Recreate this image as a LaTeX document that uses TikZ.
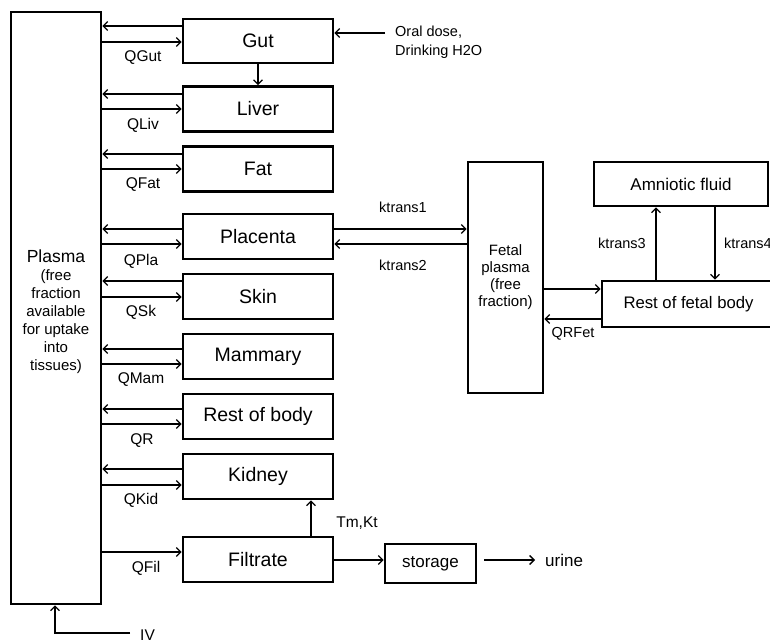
\documentclass[tikz,border=0pt]{standalone}
\usepackage{fontspec}
\setmainfont{Liberation Sans}
\usetikzlibrary{arrows.meta}
\newcommand{\fsz}[1]{\fontsize{#1}{#1}\selectfont}
\tikzset{
  box/.style={draw, line width=2.6pt, inner sep=0pt, font=\fsz{19.5}},
  arr/.style={-{Straight Barb[length=4.5pt,width=9pt,line width=1.3pt]}, line width=1.3pt},
  lbl/.style={inner sep=0pt, font=\fsz{15.5}},
  slbl/.style={inner sep=0pt, font=\fsz{14.5}},
}
\begin{document}
\begin{tikzpicture}[x=1pt,y=-1pt]
\useasboundingbox (0,0) rectangle (770,639);
% plasma
\node[box, minimum width=90pt, minimum height=592pt] (plasma) at (56,308) {};
\node[inner sep=0pt, align=center, font=\fsz{15}, text depth=0pt] (ptext) at (56,310)
  {{\fsz{17.5}Plasma}\\[3pt](free\\[3pt]fraction\\[3pt]available\\[3pt]for uptake\\[3pt]into\\[3pt]tissues)};
% organ boxes
\node[box, minimum width=150pt, minimum height=44pt] (gut) at (258,41) {Gut};
\node[box, minimum width=150pt, minimum height=45pt] (liver) at (258,109) {Liver};
\node[box, minimum width=150pt, minimum height=45pt] (fat) at (258,169) {Fat};
\node[box, minimum width=150pt, minimum height=45pt] (placenta) at (258,236.5) {Placenta};
\node[box, minimum width=150pt, minimum height=45pt] (skin) at (258,296.5) {Skin};
\node[box, minimum width=150pt, minimum height=45pt] (mammary) at (258,356.5) {Mammary};
\node[box, minimum width=150pt, minimum height=45pt] (rest) at (258,416.5) {Rest of body};
\node[box, minimum width=150pt, minimum height=45pt] (kidney) at (258,476.5) {Kidney};
\node[box, minimum width=150pt, minimum height=45pt] (filtrate) at (258,559.5) {Filtrate};
\node[box, minimum width=91pt, minimum height=39pt, font=\fsz{17}] (storage) at (430.5,563.5) {storage};
% fetal side
\node[box, minimum width=75pt, minimum height=231pt, font=\fsz{15}, align=center] (fetal) at (505.5,277.5)
  {Fetal\\[2pt]plasma\\[2pt](free\\[2pt]fraction)};
\node[box, minimum width=174pt, minimum height=44pt, font=\fsz{17}] (amn) at (681,184) {Amniotic fluid};
\node[box, minimum width=173pt, minimum height=46pt, font=\fsz{16.7}] (rfb) at (688.5,304) {Rest of fetal body};
% plasma <-> organs
\foreach \n/\a/\b in {gut/26/42, liver/94/109, fat/154/169, placenta/229/244,
  skin/281/297, mammary/349/364, rest/409/424, kidney/469/485}{
  \draw[arr] (\n.west |- 0,\a) -- (plasma.east |- 0,\a);
  \draw[arr] (plasma.east |- 0,\b) -- (\n.west |- 0,\b);
}
\draw[arr] (plasma.east |- 0,552) -- (filtrate.west |- 0,552);
% flow labels
\node[lbl] (qgut) at (143,58) {QGut};
\node[lbl] (qliv) at (143,125) {QLiv};
\node[lbl] (qfat) at (143,185) {QFat};
\node[lbl] (qpla) at (141,261) {QPla};
\node[lbl] (qsk) at (141,312) {QSk};
\node[lbl] (qmam) at (141,380) {QMam};
\node[lbl] (qr) at (142,441) {QR};
\node[lbl] (qkid) at (141,500) {QKid};
\node[lbl] (qfil) at (146,568) {QFil};
% gut -> liver
\draw[arr] (gut.south) -- (liver.north);
% oral dose
\node[slbl, align=left, anchor=west] (oral) at (395,42.5) {Oral dose,\\[4pt]Drinking H2O};
\draw[arr] ([xshift=-10pt]oral.west |- 0,33) -- (gut.east |- 0,33);
% IV
\node[lbl, anchor=west] (iv) at (140,635) {IV};
\draw[arr] ([xshift=-10pt]iv.west |- 0,633) -| (plasma.south -| 55,0);
% placenta <-> fetal
\draw[arr] (placenta.east |- 0,229) -- (fetal.west |- 0,229);
\draw[arr] (fetal.west |- 0,244) -- (placenta.east |- 0,244);
\node[slbl] (k1) at (403,207) {ktrans1};
\node[slbl] (k2) at (403,265) {ktrans2};
% fetal <-> rest fetal
\draw[arr] (fetal.east |- 0,289) -- (rfb.west |- 0,289);
\draw[arr] (rfb.west |- 0,319) -- (fetal.east |- 0,319);
\node[slbl] (qrfet) at (573,334) {QRFet};
% rfb <-> amniotic
\draw[arr] (rfb.north -| 656,0) -- (amn.south -| 656,0);
\draw[arr] (amn.south -| 715,0) -- (rfb.north -| 715,0);
\node[slbl] (k3) at (622,243) {ktrans3};
\node[slbl, anchor=west] (k4) at (724,243) {ktrans4};
% filtrate -> kidney
\draw[arr] (filtrate.north -| 311,0) -- (kidney.south -| 311,0);
\node[lbl] (tmkt) at (357,523) {Tm,Kt};
% filtrate -> storage -> urine
\draw[arr] (filtrate.east |- 0,560) -- (storage.west |- 0,560);
\node[inner sep=0pt, anchor=west, font=\fsz{17}] (urine) at (545,560) {urine};
\draw[arr] ([xshift=7pt]storage.east |- 0,560) -- ([xshift=-10pt]urine.west);
\end{tikzpicture}
\end{document}
